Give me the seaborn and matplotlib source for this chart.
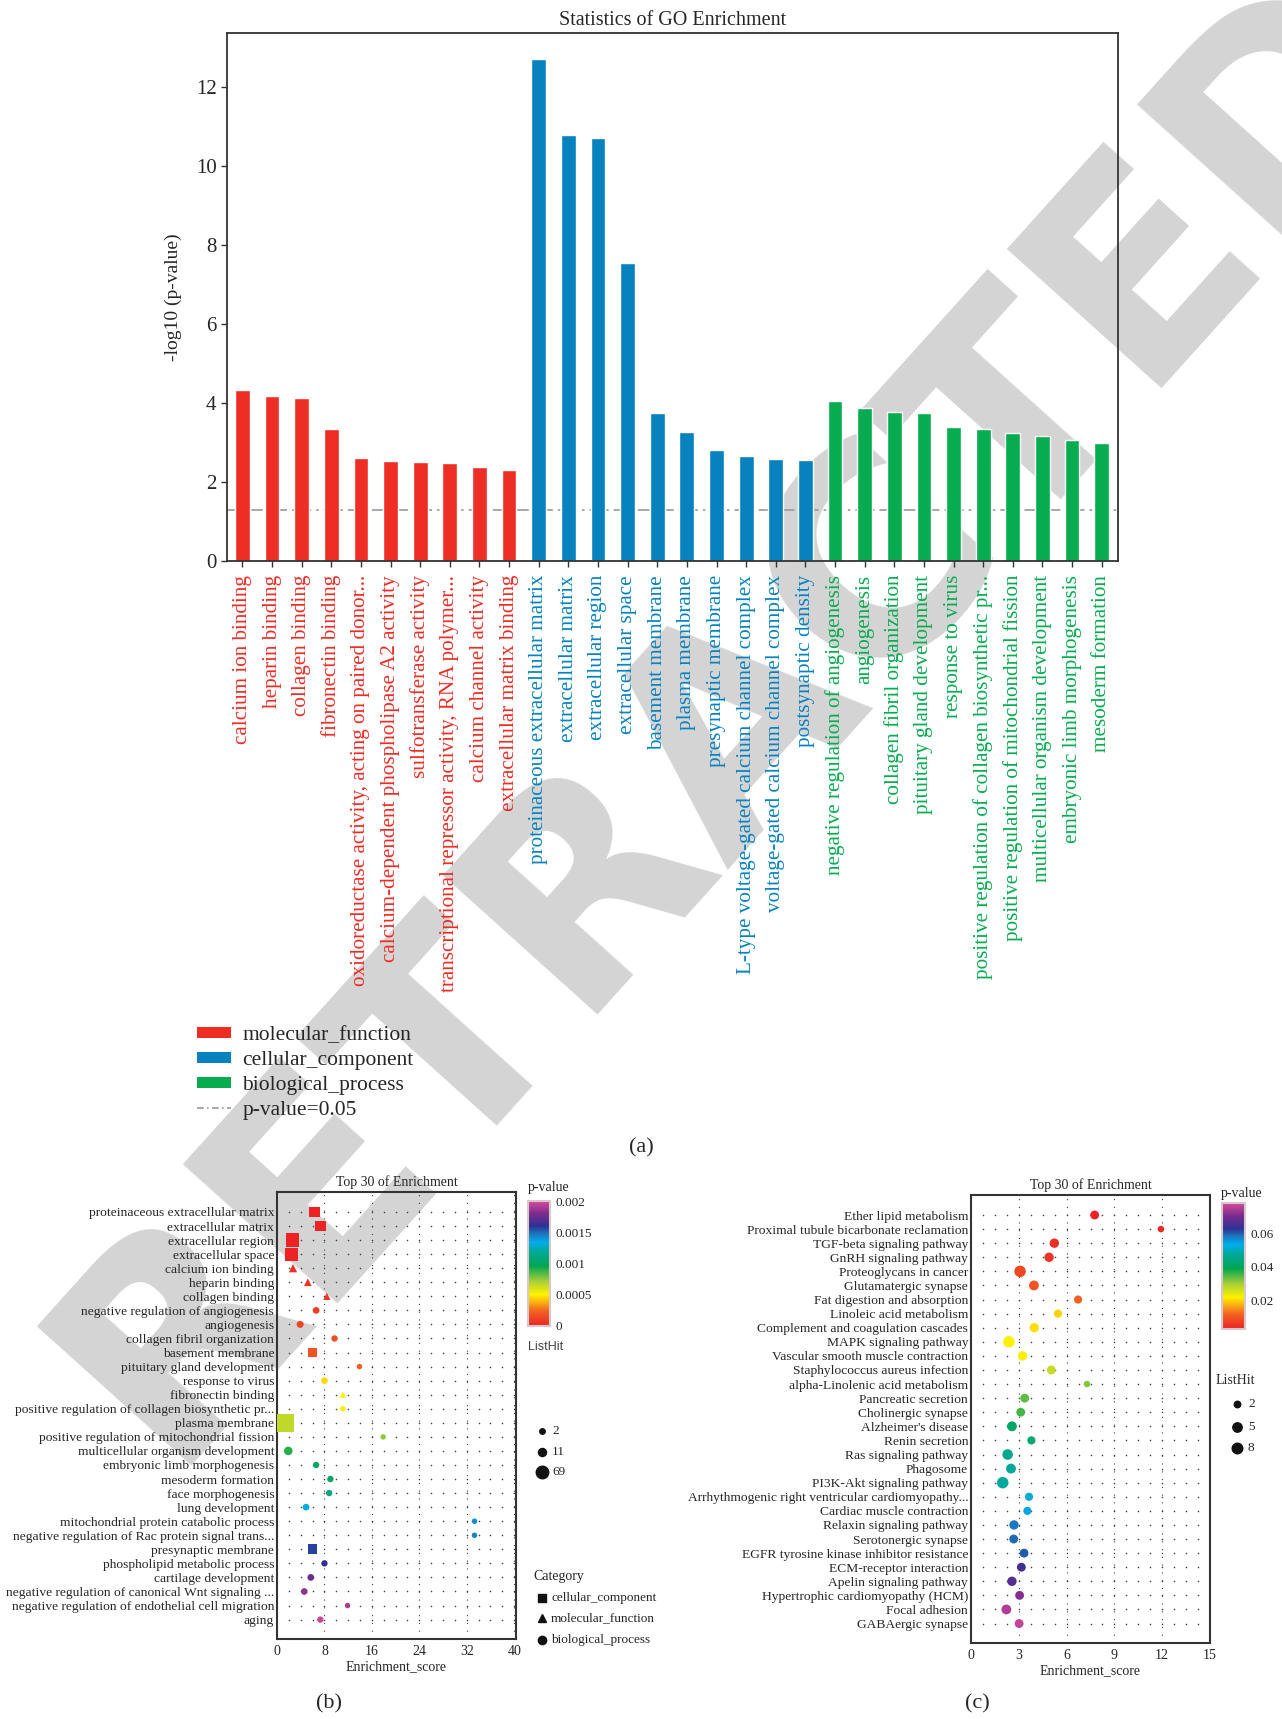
import numpy as np
import pandas as pd
import matplotlib
matplotlib.use("Agg")
import matplotlib.pyplot as plt
import seaborn as sns
from matplotlib.colors import LinearSegmentedColormap, Normalize
from matplotlib.lines import Line2D
from matplotlib.patches import Patch
from matplotlib.markers import MarkerStyle
from matplotlib.transforms import Affine2D
import matplotlib.cm as cm

sns.set_theme(style="white")
plt.rcParams["font.family"] = ["Liberation Serif", "DejaVu Serif"]

# ---------------- Panel (a) data ----------------
go_terms = [
    "calcium ion binding", "heparin binding", "collagen binding", "fibronectin binding",
    "oxidoreductase activity, acting on paired donor...",
    "calcium-dependent phospholipase A2 activity", "sulfotransferase activity",
    "transcriptional repressor activity, RNA polymer...", "calcium channel activity",
    "extracellular matrix binding",
    "proteinaceous extracellular matrix", "extracellular matrix", "extracellular region",
    "extracellular space", "basement membrane", "plasma membrane", "presynaptic membrane",
    "L-type voltage-gated calcium channel complex", "voltage-gated calcium channel complex",
    "postsynaptic density",
    "negative regulation of angiogenesis", "angiogenesis", "collagen fibril organization",
    "pituitary gland development", "response to virus",
    "positive regulation of collagen biosynthetic pr...",
    "positive regulation of mitochondrial fission", "multicellular organism development",
    "embryonic limb morphogenesis", "mesoderm formation",
]
go_values = [4.33, 4.18, 4.13, 3.34, 2.61, 2.54, 2.51, 2.49, 2.38, 2.31,
             12.70, 10.78, 10.70, 7.54, 3.75, 3.27, 2.81, 2.67, 2.59, 2.56,
             4.05, 3.88, 3.77, 3.75, 3.40, 3.34, 3.24, 3.17, 3.06, 3.00]
go_categories = ["molecular_function"] * 10 + ["cellular_component"] * 10 + ["biological_process"] * 10
category_names = ["molecular_function", "cellular_component", "biological_process"]
category_colors = ["#EE2D24", "#0782BE", "#06AC4F"]
p_cutoff = 0.05

# ---------------- Panel (b) data ----------------
b_terms = [
    "proteinaceous extracellular matrix", "extracellular matrix", "extracellular region",
    "extracellular space", "calcium ion binding", "heparin binding", "collagen binding",
    "negative regulation of angiogenesis", "angiogenesis", "collagen fibril organization",
    "basement membrane", "pituitary gland development", "response to virus",
    "fibronectin binding", "positive regulation of collagen biosynthetic pr...",
    "plasma membrane", "positive regulation of mitochondrial fission",
    "multicellular organism development", "embryonic limb morphogenesis",
    "mesoderm formation", "face morphogenesis", "lung development",
    "mitochondrial protein catabolic process",
    "negative regulation of Rac protein signal trans...", "presynaptic membrane",
    "phospholipid metabolic process", "cartilage development",
    "negative regulation of canonical Wnt signaling ...",
    "negative regulation of endothelial cell migration", "aging",
]
b_category = ["cellular_component"] * 4 + ["molecular_function"] * 3 + \
    ["biological_process"] * 3 + ["cellular_component"] + ["biological_process"] * 2 + \
    ["molecular_function"] + ["biological_process"] + ["cellular_component"] + \
    ["biological_process"] * 8 + ["cellular_component"] + ["biological_process"] * 5
b_score = [6.3, 7.3, 2.6, 2.5, 2.7, 5.2, 8.4, 6.6, 3.9, 9.7, 6.0, 13.9, 8.0, 11.1, 11.1,
           1.45, 17.9, 1.9, 6.6, 9.0, 8.8, 4.9, 33.3, 33.3, 6.0, 8.0, 5.7, 4.6, 11.9, 7.3]
b_pvalue = [2e-13, 1.6e-11, 2e-11, 3e-8, 4.7e-5, 6.5e-5, 7.4e-5, 1.0e-4, 1.3e-4, 1.6e-4,
            1.8e-4, 2.2e-4, 4.6e-4, 5.0e-4, 5.2e-4, 6.6e-4, 7.5e-4, 9.0e-4, 1.0e-3, 1.02e-3,
            1.12e-3, 1.32e-3, 1.42e-3, 1.44e-3, 1.57e-3, 1.62e-3, 1.76e-3, 1.84e-3, 1.9e-3, 1.97e-3]
b_listhit = [8, 8, 25, 22, 6, 4, 3, 4, 5, 3, 3, 2, 4, 2, 2, 69, 2, 15, 3, 3, 3, 4, 2, 2, 5,
             3, 4, 4, 2, 3]
b_size_ticks = [2, 11, 69]
b_cbar_ticks = [0, 0.0005, 0.001, 0.0015, 0.002]

# ---------------- Panel (c) data ----------------
c_terms = [
    "Ether lipid metabolism", "Proximal tubule bicarbonate reclamation",
    "TGF-beta signaling pathway", "GnRH signaling pathway", "Proteoglycans in cancer",
    "Glutamatergic synapse", "Fat digestion and absorption", "Linoleic acid metabolism",
    "Complement and coagulation cascades", "MAPK signaling pathway",
    "Vascular smooth muscle contraction", "Staphylococcus aureus infection",
    "alpha-Linolenic acid metabolism", "Pancreatic secretion", "Cholinergic synapse",
    "Alzheimer's disease", "Renin secretion", "Ras signaling pathway", "Phagosome",
    "PI3K-Akt signaling pathway", "Arrhythmogenic right ventricular cardiomyopathy...",
    "Cardiac muscle contraction", "Relaxin signaling pathway", "Serotonergic synapse",
    "EGFR tyrosine kinase inhibitor resistance", "ECM-receptor interaction",
    "Apelin signaling pathway", "Hypertrophic cardiomyopathy (HCM)", "Focal adhesion",
    "GABAergic synapse",
]
c_score = [7.76, 11.92, 5.23, 4.9, 3.08, 3.95, 6.72, 5.46, 3.97, 2.38, 3.24, 5.04, 7.28,
           3.37, 3.12, 2.57, 3.79, 2.3, 2.51, 1.99, 3.64, 3.54, 2.7, 2.68, 3.33, 3.16,
           2.57, 3.05, 2.22, 3.02]
c_pvalue = [0.0031, 0.0040, 0.0048, 0.0055, 0.0080, 0.0098, 0.0115, 0.0195, 0.0205, 0.0215,
            0.0225, 0.0270, 0.0320, 0.0340, 0.0355, 0.0410, 0.0425, 0.0460, 0.0470, 0.0480,
            0.0515, 0.0540, 0.0580, 0.0590, 0.0600, 0.0650, 0.0670, 0.0710, 0.0745, 0.0765]
c_listhit = [4, 2, 5, 5, 11, 6, 3, 3, 5, 11, 5, 4, 2, 4, 4, 6, 3, 8, 6, 11, 3, 3, 5, 4, 4,
             4, 5, 4, 6, 4]
c_size_ticks = [2, 5, 8]
c_cbar_ticks = [0.02, 0.04, 0.06]

watermark = "RETRACTED"

# ---------------- helpers ----------------
W, H = 1282, 1719
def fx(x):
    return x / W
def fy(y):
    return 1 - y / H

pcmap = LinearSegmentedColormap.from_list("pv", [
    (0.00, "#ED2224"), (0.12, "#F26522"), (0.25, "#FFF200"), (0.36, "#A6CE39"),
    (0.48, "#00A651"), (0.60, "#00A99D"), (0.67, "#00AEEF"), (0.74, "#1C75BC"),
    (0.80, "#2E3192"), (0.90, "#7B2C8E"), (1.00, "#D64B9C")])

def size_map(values, hmin, hmax, dmin_px, dmax_px):
    # ggplot-like area scaling: diameter grows with sqrt of rescaled value
    out = {}
    for h in sorted(set(values)):
        t = (h - hmin) / (hmax - hmin)
        d = dmin_px + (dmax_px - dmin_px) * np.sqrt(max(t, 0))
        out[h] = (d * 0.72) ** 2
    return out

fig = plt.figure(figsize=(W / 100, H / 100), dpi=100)
fig.patch.set_facecolor("white")

# watermark behind everything
fig.text(0.575, 0.585, watermark, fontsize=205, rotation=48, color="#d4d4d4",
         ha="center", va="center", rotation_mode="anchor", zorder=-20,
         family=["DejaVu Sans"], fontweight="bold")

# ================= Panel (a) =================
ax = fig.add_axes([fx(227), fy(561), fx(1118) - fx(227), fy(33) - fy(561)])
ax.patch.set_alpha(0)
df_a = pd.DataFrame({"term": go_terms, "value": go_values, "category": go_categories})
sns.barplot(data=df_a, x="term", y="value", hue="category", hue_order=category_names,
            palette=category_colors, dodge=False, width=0.5, saturation=1,
            legend=False, ax=ax)
ax.axhline(-np.log10(p_cutoff), color="#9a9a9a", lw=1.2, ls=(0, (7, 3, 1.5, 3)), zorder=0)
ax.set_xlim(-0.52, len(go_terms) - 0.45)
ax.set_ylim(0, 13.37)
ax.set_yticks([0, 2, 4, 6, 8, 10, 12])
ax.set_xlabel("")
ax.set_ylabel("-log10 (p-value)", fontsize=14, labelpad=10)
ax.set_title("Statistics of GO Enrichment", fontsize=14.5, pad=6)
ax.tick_params(axis="y", labelsize=15, length=4, width=1, color="#333", direction="out", left=True)
ax.tick_params(axis="x", length=4, width=1, color="#333", direction="out", bottom=True, pad=6)
ax.set_xticks(range(len(go_terms)))
ax.set_xticklabels(go_terms, rotation=90, fontsize=15.2, va="top", ha="center")
cmap_cat = dict(zip(category_names, category_colors))
for lab, cat in zip(ax.get_xticklabels(), go_categories):
    lab.set_color(cmap_cat[cat])
for s in ax.spines.values():
    s.set_color("#333333")
    s.set_linewidth(1.3)

handles = [Patch(facecolor=c, edgecolor="none", label=n) for n, c in zip(category_names, category_colors)]
handles.append(Line2D([], [], color="#9a9a9a", lw=1.2, ls=(0, (4, 2, 1, 2)), label="p-value=0.05"))
fig.legend(handles=handles, loc="upper left", bbox_to_anchor=(fx(197), fy(1026)),
           frameon=False, fontsize=15.5, handlelength=1.6, handleheight=0.45,
           labelspacing=0.28, borderpad=0, borderaxespad=0, handletextpad=0.5)
fig.text(fx(641), fy(1148), "(a)", fontsize=16, ha="center", va="center")

# ================= dot plots =================
def dot_panel(rect, terms, score, pval, hits, cats, xmax, xstep, vmin, vmax, sizes,
              markers):
    ax = fig.add_axes(rect)
    ax.patch.set_alpha(0)
    n = len(terms)
    df = pd.DataFrame({"row": np.arange(n), "score": score, "p": pval, "hits": hits,
                       "cat": cats})
    minor = xstep / 4
    gx = np.arange(minor, xmax - 0.01, minor)
    GX, GY = np.meshgrid(gx, np.arange(n))
    ax.scatter(GX.ravel(), GY.ravel(), s=1.3, color="#444444", linewidths=0, zorder=0)
    for xv in np.arange(xstep, xmax - 0.01, xstep):
        ax.axvline(xv, color="#444444", lw=0.8, ls=(0, (1, 6)), zorder=0)
    kw = {}
    if markers is not None:
        kw = dict(style="cat", markers=markers)
    sns.scatterplot(data=df, x="score", y="row", hue="p", palette=pcmap,
                    hue_norm=(vmin, vmax), size="hits", sizes=sizes,
                    linewidth=0, legend=False, ax=ax, zorder=3, **kw)
    ax.set_xlim(0, xmax)
    ax.set_ylim(n - 1 + 1.38, -1.42)
    ax.set_xticks(np.arange(0, xmax + 0.01, xstep))
    ax.set_yticks(range(n))
    ax.set_yticklabels(terms, fontsize=9.7)
    ax.tick_params(axis="both", length=0, pad=2)
    ax.tick_params(axis="x", labelsize=10, pad=4)
    ax.set_ylabel("")
    ax.set_xlabel("Enrichment_score", fontsize=10, labelpad=2)
    ax.set_title("Top 30 of Enrichment", fontsize=10, pad=4)
    for s in ax.spines.values():
        s.set_color("#333333")
        s.set_linewidth(1.5)
    return ax

# ---- Panel (b)
sq = MarkerStyle("s", transform=Affine2D().scale(1.4))
tri = MarkerStyle("^", transform=Affine2D().scale(1.15))
cat_markers = {"cellular_component": sq, "molecular_function": tri, "biological_process": "o"}
b_sizes = size_map(b_listhit + b_size_ticks, 2, 69, 5.5, 12.5)
axb = dot_panel([fx(277), fy(1639), fx(516) - fx(277), fy(1192) - fy(1639)], b_terms, b_score,
                b_pvalue, b_listhit, b_category, 40.3, 8, 0, 0.002, b_sizes, cat_markers)
axb.set_xticks(np.arange(0, 41, 8))

cax = fig.add_axes([fx(528), fy(1326), fx(550) - fx(528), fy(1201) - fy(1326)])
cb = fig.colorbar(cm.ScalarMappable(norm=Normalize(0, 0.002), cmap=pcmap), cax=cax)
cb.set_ticks(b_cbar_ticks)
cb.set_ticklabels(["0", "0.0005", "0.001", "0.0015", "0.002"])
cb.ax.tick_params(length=0, labelsize=9.5, pad=4)
cb.outline.set_edgecolor("#d8c8cc")
cb.outline.set_linewidth(1.5)
fig.text(fx(528), fy(1188), "p-value", fontsize=10, ha="left", va="center")
fig.text(fx(528), fy(1347), "ListHit", fontsize=9, ha="left", va="center",
         family=["Liberation Sans", "DejaVu Sans"], color="#444444")
for h, yy in zip(b_size_ticks, [1431, 1452, 1472]):
    fig.add_artist(Line2D([fx(542)], [fy(yy)], marker="o", ms=np.sqrt(b_sizes[h]),
                          color="#111111", lw=0, transform=fig.transFigure))
    fig.text(fx(552), fy(yy), str(h), fontsize=9.5, ha="left", va="center")
fig.text(fx(533), fy(1576), "Category", fontsize=10, ha="left", va="center")
for (name, mk), yy in zip([("cellular_component", "s"), ("molecular_function", "^"),
                           ("biological_process", "o")], [1598, 1618, 1640]):
    fig.add_artist(Line2D([fx(542)], [fy(yy)], marker=mk, ms=6, color="#111111",
                          lw=0, transform=fig.transFigure))
    fig.text(fx(551), fy(yy), name, fontsize=9.5, ha="left", va="center")
fig.text(fx(329), fy(1704), "(b)", fontsize=16, ha="center", va="center")

# ---- Panel (c)
c_vmin, c_vmax = 0.003, 0.078
c_sizes = size_map(c_listhit + c_size_ticks, 2, 11, 6.5, 11.5)
dot_panel([fx(971), fy(1643), fx(1210) - fx(971), fy(1195) - fy(1643)], c_terms, c_score,
          c_pvalue, c_listhit, ["pathway"] * len(c_terms), 15, 3, c_vmin, c_vmax, c_sizes, None)

cax2 = fig.add_axes([fx(1222), fy(1329), fx(1245) - fx(1222), fy(1203) - fy(1329)])
cb2 = fig.colorbar(cm.ScalarMappable(norm=Normalize(c_vmin, c_vmax), cmap=pcmap), cax=cax2)
cb2.set_ticks(c_cbar_ticks)
cb2.set_ticklabels(["0.02", "0.04", "0.06"])
cb2.ax.tick_params(length=0, labelsize=9.5, pad=4)
cb2.outline.set_edgecolor("#d8c8cc")
cb2.outline.set_linewidth(1.5)
fig.text(fx(1221), fy(1193), "p-value", fontsize=10, ha="left", va="center")
fig.text(fx(1216), fy(1380), "ListHit", fontsize=10, ha="left", va="center")
for h, yy in zip(c_size_ticks, [1404, 1427, 1448]):
    fig.add_artist(Line2D([fx(1237)], [fy(yy)], marker="o", ms=np.sqrt(c_sizes[h]),
                          color="#111111", lw=0, transform=fig.transFigure))
    fig.text(fx(1248), fy(yy), str(h), fontsize=9.5, ha="left", va="center")
fig.text(fx(977), fy(1704), "(c)", fontsize=16, ha="center", va="center")

fig.savefig("out.png", dpi=100, facecolor="white")
